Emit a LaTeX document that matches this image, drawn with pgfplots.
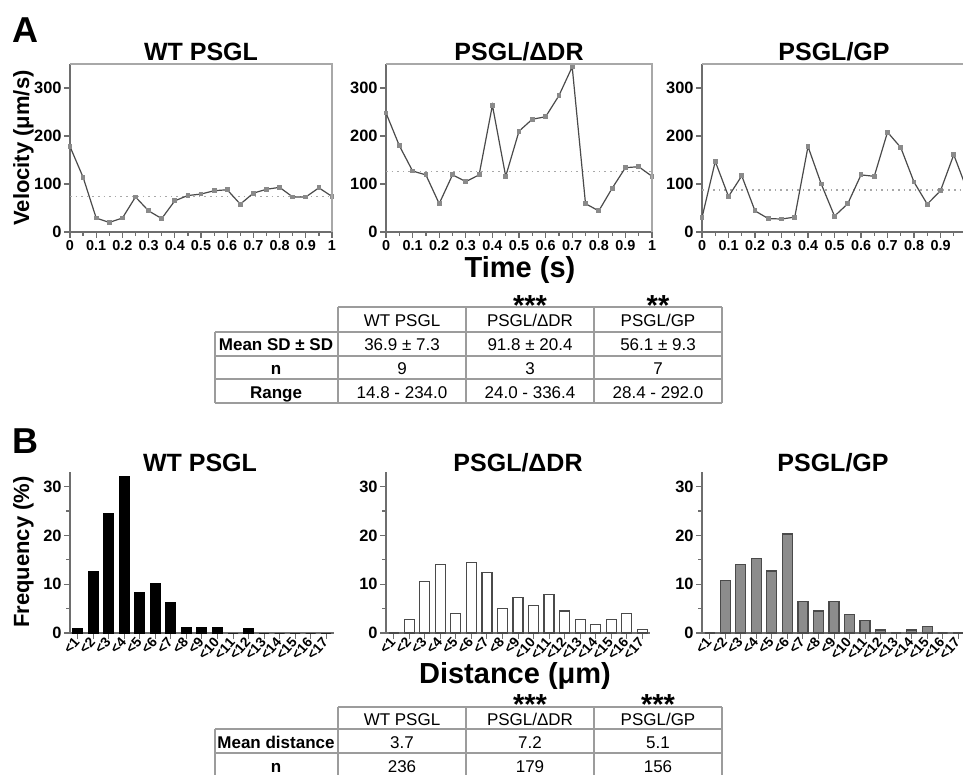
\documentclass[border=0pt]{standalone}
\usepackage{fontspec}
\setmainfont{Liberation Sans}
\usepackage{pgfplots}
\pgfplotsset{compat=1.18}

\definecolor{axgray}{HTML}{6E6E6E}
\definecolor{boxgray}{HTML}{A8A8A8}
\definecolor{linegray}{HTML}{4A4A4A}
\definecolor{markgray}{HTML}{8A8A8A}
\definecolor{bargray}{HTML}{8C8C8C}
\definecolor{tabgray}{HTML}{9C9C9C}

\newcommand{\fs}[1]{\fontsize{#1}{#1}\selectfont}

\pgfplotsset{
  common/.style={
    scale only axis, anchor=south west, clip=false,
    axis lines*=left,
    x axis line style={-}, y axis line style={-},
    axis line style={axgray, line width=0.8pt},
    tick align=outside,
    tick style={axgray, line width=0.6pt},
    major tick length=3pt, minor tick length=1.8pt,
    /pgf/number format/assume math mode=true,
    yticklabel style={font=\bfseries\fs{8.2}, inner sep=1pt},
  },
  velo/.style={
    common, height=84pt,
    xmin=0, xmax=1, ymin=0, ymax=350,
    xtick={0,0.1,0.2,0.3,0.4,0.5,0.6,0.7,0.8,0.9,1},
    xticklabels={0,0.1,0.2,0.3,0.4,0.5,0.6,0.7,0.8,0.9,1},
    minor xtick={0.05,0.15,0.25,0.35,0.45,0.55,0.65,0.75,0.85,0.95},
    ytick={0,100,200,300},
    xticklabel style={font=\bfseries\fs{7.2}, inner sep=1pt},
    after end axis/.code={
      \draw[boxgray, line width=0.6pt] (rel axis cs:0,1) -- (rel axis cs:1,1) -- (rel axis cs:1,0);
    },
  },
  freq/.style={
    common, height=80.5pt, ybar, bar width=5pt,
    xmin=0.5, xmax=17.5, ymin=0, ymax=33,
    xtick={1,2,3,4,5,6,7,8,9,10,11,12,13,14,15,16,17},
    xticklabels={{<1},{<2},{<3},{<4},{<5},{<6},{<7},{<8},{<9},{<10},{<11},{<12},{<13},{<14},{<15},{<16},{<17}},
    ytick={0,10,20,30}, minor ytick={5,15,25},
    major x tick style={line width=0.5pt},
    xticklabel style={font=\bfseries\fs{6.9}, rotate=48, anchor=east, inner sep=0.5pt},
  },
  trace/.style={linegray, line width=0.6pt, mark=square*, mark size=0.9pt,
    mark options={fill=markgray, draw=markgray}},
  meanline/.style={boxgray, dotted, line width=0.8pt},
}

\begin{document}
\begin{tikzpicture}
\useasboundingbox (0,0) rectangle (481.5pt,-387.5pt);

% ---------------- panel A: velocity traces
\begin{axis}[velo, at={(35pt,-116pt)}, width=131pt]
\addplot[meanline] coordinates {(0,74) (1,74)};
\addplot[trace] coordinates {
(0,178) (0.05,114) (0.1,29) (0.15,20) (0.2,29) (0.25,73) (0.3,44) (0.35,28)
(0.4,65) (0.45,76) (0.5,79) (0.55,86) (0.6,88) (0.65,58) (0.7,81) (0.75,89)
(0.8,93) (0.85,73) (0.9,73) (0.95,92) (1,74)};
\end{axis}

\begin{axis}[velo, at={(193pt,-116pt)}, width=133pt]
\addplot[meanline] coordinates {(0,126) (1,126)};
\addplot[trace] coordinates {
(0,248) (0.05,180) (0.1,127) (0.15,119) (0.2,59) (0.25,119) (0.3,105) (0.35,119)
(0.4,264) (0.45,116) (0.5,210) (0.55,235) (0.6,240) (0.65,284) (0.7,344) (0.75,59)
(0.8,44) (0.85,91) (0.9,134) (0.95,136) (1,116)};
\end{axis}

\begin{axis}[velo, at={(351pt,-116pt)}, width=132.5pt]
\addplot[meanline] coordinates {(0,87) (1,87)};
\addplot[trace] coordinates {
(0,30) (0.05,147) (0.1,74) (0.15,117) (0.2,44) (0.25,28) (0.3,27) (0.35,31)
(0.4,178) (0.45,100) (0.5,33) (0.55,59) (0.6,119) (0.65,116) (0.7,208) (0.75,176)
(0.8,104) (0.85,58) (0.9,86) (0.95,161) (1,88)};
\end{axis}

% ---------------- panel B: distance histograms
\begin{axis}[freq, at={(35pt,-316.5pt)}, width=132pt]
\addplot[fill=black, draw=black, line width=0.5pt] coordinates {
(1,0.9) (2,12.6) (3,24.4) (4,32.0) (5,8.4) (6,10.1) (7,6.3) (8,1.2) (9,1.2)
(10,1.2) (11,0) (12,0.9) (13,0) (14,0) (15,0) (16,0) (17,0)};
\end{axis}

\begin{axis}[freq, at={(193pt,-316.5pt)}, width=132pt]
\addplot[fill=white, draw=linegray, line width=0.6pt] coordinates {
(1,0) (2,2.7) (3,10.6) (4,14.0) (5,4.0) (6,14.5) (7,12.4) (8,5.0) (9,7.2)
(10,5.6) (11,7.9) (12,4.5) (13,2.7) (14,1.7) (15,2.7) (16,4.0) (17,0.7)};
\end{axis}

\begin{axis}[freq, at={(351pt,-316.5pt)}, width=132pt]
\addplot[fill=bargray, draw=linegray, line width=0.6pt] coordinates {
(1,0) (2,10.8) (3,14.0) (4,15.3) (5,12.7) (6,20.3) (7,6.4) (8,4.5) (9,6.4)
(10,3.8) (11,2.6) (12,0.6) (13,0) (14,0.6) (15,1.3) (16,0) (17,0)};
\end{axis}

% ---------------- labels and tables (pixel grid, y downwards)
\begin{scope}[x=0.5pt, y=-0.5pt]
\node[anchor=base west, inner sep=0, font=\bfseries\fs{18}] at (12,43) {A};
\node[anchor=base west, inner sep=0, font=\bfseries\fs{18}] at (12,453) {B};

\foreach \cx/\t in {201/{WT PSGL}, 519/{PSGL/ΔDR}, 834/{PSGL/GP}}{
  \node[anchor=base, inner sep=0, font=\bfseries\fs{12.5}] at (\cx,61) {\t};
  \node[anchor=base, inner sep=0, font=\bfseries\fs{12.5}] at (\cx-1,471) {\t};
}
\node[rotate=90, anchor=base, inner sep=0, font=\bfseries\fs{11}] at (29,148) {Velocity (μm/s)};
\node[rotate=90, anchor=base, inner sep=0, font=\bfseries\fs{11}] at (29,552) {Frequency (\%)};
\node[anchor=base, inner sep=0, font=\bfseries\fs{14.5}] at (520,278) {Time (s)};
\node[anchor=base, inner sep=0, font=\bfseries\fs{14.5}] at (515,683) {Distance (μm)};

% table A
\begin{scope}[tabgray, line width=0.6pt]
\draw (338,307) -- (722,307);
\foreach \y in {332,356,379,403} \draw (215,\y) -- (722,\y);
\draw (215,332) -- (215,403);
\foreach \x in {338,466,594,722} \draw (\x,307) -- (\x,403);
\end{scope}
\node[anchor=base, inner sep=0, font=\bfseries\fs{14.5}] at (530,315) {***};
\node[anchor=base, inner sep=0, font=\bfseries\fs{14.5}] at (658,315) {**};
\foreach \cx/\t in {402/{WT PSGL}, 530/{PSGL/ΔDR}, 658/{PSGL/GP}}
  \node[anchor=base, inner sep=0, font=\fs{8.5}] at (\cx,326.5) {\t};
\node[anchor=base, inner sep=0, font=\bfseries\fs{8.5}] at (276,350.5) {Mean SD ± SD};
\node[anchor=base, inner sep=0, font=\bfseries\fs{8.5}] at (276,374) {n};
\node[anchor=base, inner sep=0, font=\bfseries\fs{8.5}] at (276,398) {Range};
\foreach \cx/\a/\b/\c in {402/36.9 ± 7.3/9/14.8 - 234.0, 530/91.8 ± 20.4/3/24.0 - 336.4, 658/56.1 ± 9.3/7/28.4 - 292.0}{
  \node[anchor=base, inner sep=0, font=\fs{8.5}] at (\cx,350.5) {\a};
  \node[anchor=base, inner sep=0, font=\fs{8.5}] at (\cx,374) {\b};
  \node[anchor=base, inner sep=0, font=\fs{8.5}] at (\cx,398) {\c};
}

% table B
\begin{scope}[tabgray, line width=0.6pt]
\draw (338,707) -- (722,707);
\foreach \y in {729,753} \draw (215,\y) -- (722,\y);
\draw (215,729) -- (215,790);
\foreach \x in {338,466,594,722} \draw (\x,707) -- (\x,790);
\end{scope}
\node[anchor=base, inner sep=0, font=\bfseries\fs{14.5}] at (530,714) {***};
\node[anchor=base, inner sep=0, font=\bfseries\fs{14.5}] at (658,714) {***};
\foreach \cx/\t in {402/{WT PSGL}, 530/{PSGL/ΔDR}, 658/{PSGL/GP}}
  \node[anchor=base, inner sep=0, font=\fs{8.5}] at (\cx,725) {\t};
\node[anchor=base, inner sep=0, font=\bfseries\fs{8.5}] at (276,748.5) {Mean distance};
\node[anchor=base, inner sep=0, font=\bfseries\fs{8.5}] at (276,772) {n};
\foreach \cx/\a/\b in {402/3.7/236, 530/7.2/179, 658/5.1/156}{
  \node[anchor=base, inner sep=0, font=\fs{8.5}] at (\cx,748.5) {\a};
  \node[anchor=base, inner sep=0, font=\fs{8.5}] at (\cx,772) {\b};
}
\end{scope}
\end{tikzpicture}
\end{document}
